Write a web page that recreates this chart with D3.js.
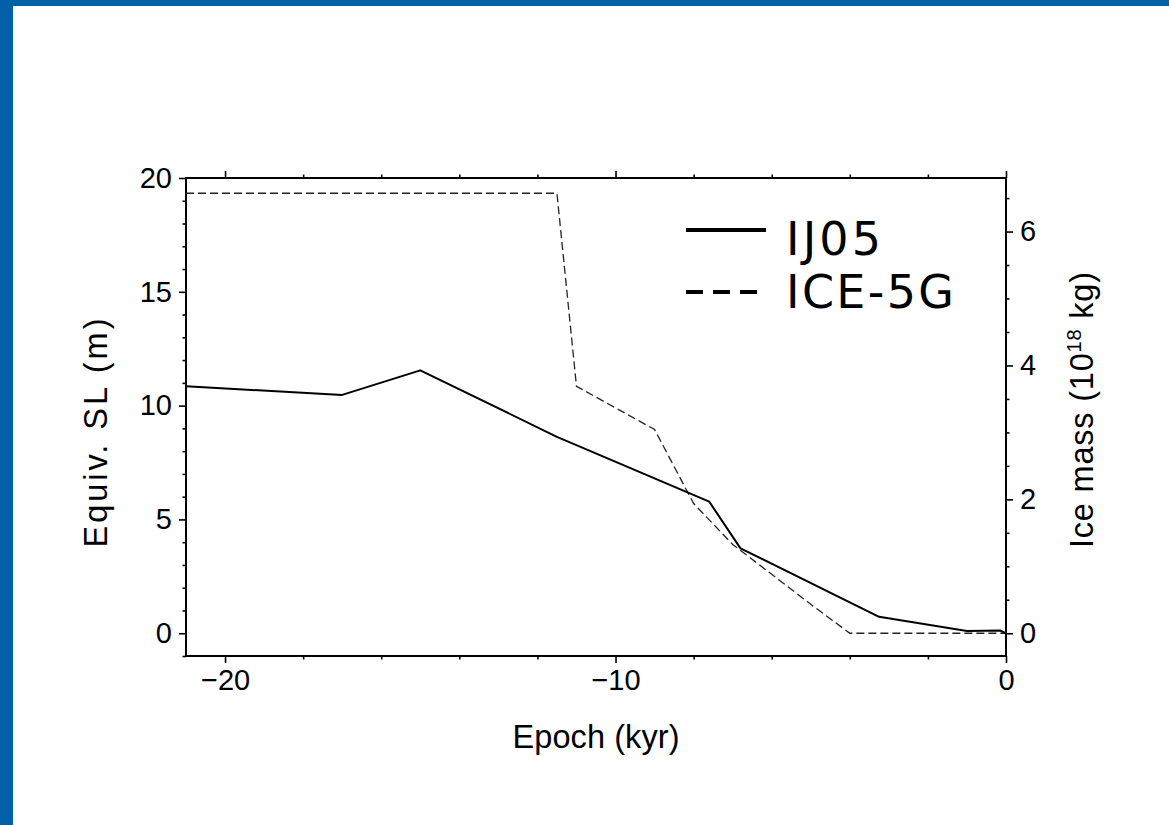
<!DOCTYPE html>
<html>
<head>
<meta charset="utf-8">
<script src="https://cdn.jsdelivr.net/npm/d3@7"></script>
<style>
  html, body { margin: 0; padding: 0; background: #ffffff; }
  svg { display: block; }
</style>
</head>
<body>
<svg id="chart" width="1169" height="825"></svg>
<script>
// Equivalent sea level of the ice models through the deglaciation
const ij05Epoch = [-21, -17, -15, -11.5, -7.6, -6.8, -3.25, -1, -0.15, 0];
const ij05SL    = [10.85, 10.47, 11.55, 8.63, 5.78, 3.73, 0.72, 0.1, 0.12, 0];

const ice5gEpoch = [-21, -11.5, -11, -9, -8, -7, -6, -5, -4, 0];
const ice5gSL    = [19.33, 19.33, 10.85, 8.95, 5.7, 3.9, 2.59, 1.27, 0, 0];

const seriesNames = ["IJ05", "ICE-5G"];

// Axis ranges and ticks
const epochDomain = [-21, 0];
const slDomain = [-1, 20];
const massPerMetre = 0.34;           // 10^18 kg of ice per metre of sea level
const epochMajor = [-20, -10, 0];
const slMajor = [0, 5, 10, 15, 20];
const massMajor = [0, 2, 4, 6];

const svg = d3.select("#chart");
const axisFont = "'Liberation Sans', Arial, Helvetica, sans-serif";

// Page frame
svg.append("rect").attr("x", 0).attr("y", 0).attr("width", 1169).attr("height", 6).attr("fill", "#0061a8");
svg.append("rect").attr("x", 0).attr("y", 0).attr("width", 13).attr("height", 825).attr("fill", "#0061a8");

const plotL = 186, plotR = 1006, plotT = 178, plotB = 656;

const x = d3.scaleLinear().domain(epochDomain).range([plotL, plotR]);
const y = d3.scaleLinear().domain(slDomain).range([plotB, plotT]);
const y2 = d3.scaleLinear().domain(slDomain.map(d => d * massPerMetre)).range([plotB, plotT]);

const majorLen = 7, minorLen = 3.5;

function styleAxis(g) {
  g.select(".domain").remove();
  g.selectAll("line").attr("stroke", "#000").attr("stroke-width", 1.6);
  g.selectAll("text").attr("font-family", axisFont).attr("font-size", 29).attr("fill", "#000");
}

const epochMinor = d3.range(-20, 0.001, 2).filter(v => !epochMajor.includes(v));
const slMinor = d3.range(-1, 20.001, 1).filter(v => !slMajor.includes(v));
const massMinor = d3.range(0, 6.81, 0.5).filter(v => !massMajor.includes(v));

// Bottom axis
svg.append("g").attr("transform", `translate(0,${plotB})`)
  .call(d3.axisBottom(x).tickValues(epochMajor).tickSize(majorLen).tickPadding(6)
        .tickFormat(d => d === 0 ? "0" : "\u2212" + Math.abs(d)))
  .call(styleAxis);
svg.append("g").attr("transform", `translate(0,${plotB})`)
  .call(d3.axisBottom(x).tickValues(epochMinor).tickSize(minorLen).tickFormat(""))
  .call(styleAxis);

// Top axis
svg.append("g").attr("transform", `translate(0,${plotT})`)
  .call(d3.axisTop(x).tickValues(epochMajor).tickSize(majorLen).tickFormat(""))
  .call(styleAxis);
svg.append("g").attr("transform", `translate(0,${plotT})`)
  .call(d3.axisTop(x).tickValues(epochMinor).tickSize(minorLen).tickFormat(""))
  .call(styleAxis);

// Left axis (sea level)
svg.append("g").attr("transform", `translate(${plotL},0)`)
  .call(d3.axisLeft(y).tickValues(slMajor).tickSize(majorLen).tickPadding(7))
  .call(styleAxis);
svg.append("g").attr("transform", `translate(${plotL},0)`)
  .call(d3.axisLeft(y).tickValues(slMinor).tickSize(minorLen).tickFormat(""))
  .call(styleAxis);

// Right axis (ice mass)
svg.append("g").attr("transform", `translate(${plotR},0)`)
  .call(d3.axisRight(y2).tickValues(massMajor).tickSize(majorLen).tickPadding(7))
  .call(styleAxis);
svg.append("g").attr("transform", `translate(${plotR},0)`)
  .call(d3.axisRight(y2).tickValues(massMinor).tickSize(minorLen).tickFormat(""))
  .call(styleAxis);

// Frame lines
svg.append("rect").attr("x", plotL).attr("y", plotT)
  .attr("width", plotR - plotL).attr("height", plotB - plotT)
  .attr("fill", "none").attr("stroke", "#000").attr("stroke-width", 2);

// Series
const line = d3.line().x(d => x(d[0])).y(d => y(d[1]));
svg.append("clipPath").attr("id", "plot-clip")
  .append("rect").attr("x", plotL).attr("y", plotT).attr("width", plotR - plotL).attr("height", plotB - plotT);

const plot = svg.append("g").attr("clip-path", "url(#plot-clip)");
plot.append("path")
  .datum(d3.zip(ice5gEpoch, ice5gSL))
  .attr("d", line).attr("fill", "none")
  .attr("stroke", "#222").attr("stroke-width", 1.3).attr("stroke-dasharray", "8,4");
plot.append("path")
  .datum(d3.zip(ij05Epoch, ij05SL))
  .attr("d", line).attr("fill", "none")
  .attr("stroke", "#000").attr("stroke-width", 2).attr("stroke-linejoin", "round");

// Axis titles
svg.append("text").attr("x", 596).attr("y", 748).attr("text-anchor", "middle")
  .attr("font-family", axisFont).attr("font-size", 32.5)
  .attr("textLength", 167).attr("lengthAdjust", "spacing").text("Epoch (kyr)");
svg.append("text").attr("transform", "translate(107,433) rotate(-90)").attr("text-anchor", "middle")
  .attr("font-family", axisFont).attr("font-size", 32.5)
  .attr("textLength", 229).attr("lengthAdjust", "spacing").text("Equiv. SL (m)");
const rt = svg.append("text").attr("transform", "translate(1093,410) rotate(-90)").attr("text-anchor", "middle")
  .attr("font-family", axisFont).attr("font-size", 32.5)
  .attr("textLength", 276).attr("lengthAdjust", "spacing");
rt.append("tspan").text("Ice mass (10");
rt.append("tspan").attr("font-size", 20).attr("dy", -12).text("18");
rt.append("tspan").attr("dy", 12).text(" kg)");

// Legend
const legendFont = "Verdana, 'DejaVu Sans', sans-serif";
const legend = svg.append("g");
const legendRows = [
  { name: seriesNames[0], lineY: 230, textY: 255, dash: null, len: 95 },
  { name: seriesNames[1], lineY: 292, textY: 308, dash: "17,10", len: 168 }
];
legendRows.forEach(r => {
  legend.append("line").attr("x1", 686).attr("x2", 766).attr("y1", r.lineY).attr("y2", r.lineY)
    .attr("stroke", "#000").attr("stroke-width", 4)
    .attr("stroke-dasharray", r.dash);
  legend.append("text").attr("x", 786).attr("y", r.textY)
    .attr("font-family", legendFont).attr("font-size", 46).attr("fill", "#000")
    .attr("textLength", r.len).attr("lengthAdjust", "spacing").text(r.name);
});
</script>
</body>
</html>
